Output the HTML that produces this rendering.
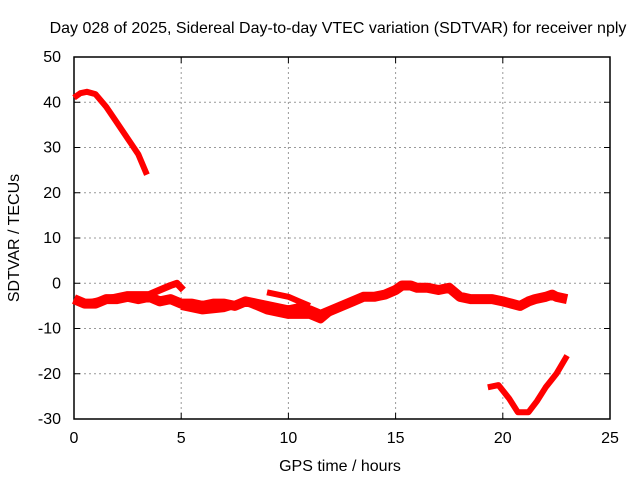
<!DOCTYPE html>
<html><head><meta charset="utf-8"><style>
body{margin:0;background:#fff}
svg text{font-family:"Liberation Sans",sans-serif;font-size:16px;fill:#000}
</style></head><body>
<svg width="640" height="480">
<g id="grid"></g>
<rect x="74" y="57" width="536" height="362" fill="none" stroke="#000" stroke-width="1.5"/>
<g id="ticks"></g>
<g id="series"></g>
<text x="338" y="33" text-anchor="middle">Day 028 of 2025, Sidereal Day-to-day VTEC variation (SDTVAR) for receiver nply</text>
<text x="340" y="471" text-anchor="middle">GPS time / hours</text>
<text transform="translate(19,238) rotate(-90)" text-anchor="middle">SDTVAR / TECUs</text>
</svg>
<script>
const xTicks=[0,5,10,15,20,25];
const yTicks=[50,40,30,20,10,0,-10,-20,-30];
const upperH=[0,0.3,0.6,1,1.5,2,2.5,3,3.4];
const upperV=[41,42,42.3,41.8,39,35.5,32,28.5,24];
const bandAH=[0,0.5,1,1.5,2,2.5,3,3.5,4,4.5,4.8,5.1];
const bandAV=[-3.5,-4.5,-4,-3.5,-3,-2.5,-2.5,-2.5,-1.5,-0.5,0,-1.5];
const bandBH=[0,0.5,1,1.5,2,2.5,3,3.5,4,4.5,5,5.5,6,6.5,7,7.5,8,8.5,9,9.5,10,10.5,11,11.5,12,12.5,13,13.5,14,14.5,15,15.3,15.7,16,16.5,17,17.5,18,18.5,19,19.5,20,20.4,20.8,21.2,21.5,22,22.3,22.5,23];
const bandBV=[-3.5,-4.5,-4.5,-3.5,-3.5,-3,-3.5,-3,-4,-3.5,-4.5,-4.5,-5,-4.5,-4.5,-5,-4,-4.5,-5,-5.5,-6,-5.5,-6,-7,-6,-5,-4,-3,-3,-2.5,-1.5,-0.5,-0.5,-1,-1,-1.5,-1,-3,-3.5,-3.5,-3.5,-4,-4.5,-5,-4,-3.5,-3,-2.5,-3,-3.5];
const bandCH=[5,6,7,8,9,10,11,11.5,12,12.5];
const bandCV=[-5,-6,-5.5,-4,-6,-7,-7,-8,-6,-5];
const bandDH=[9,9.5,10,10.5,11];
const bandDV=[-2,-2.5,-3,-4,-5];
const lowH=[19.3,19.8,20.3,20.7,21.2,21.6,22,22.5,23];
const lowV=[-23,-22.5,-25.5,-28.5,-28.5,-26,-23,-20,-16];
const X=h=>74+h*536/25, Y=v=>57+(50-v)*362/80;
const NS='http://www.w3.org/2000/svg';
const grid=document.getElementById('grid'),ticks=document.getElementById('ticks'),ser=document.getElementById('series');
function mk(tag,a,p){const e=document.createElementNS(NS,tag);for(const k in a)e.setAttribute(k,a[k]);p.appendChild(e);return e;}
xTicks.forEach(t=>{const x=X(t);
 if(t>0&&t<25){const l=mk('line',{x1:x,x2:x,y1:57,y2:419,stroke:'#999','stroke-dasharray':'2,3'},grid);
 
 }
 mk('line',{x1:x,x2:x,y1:419,y2:413,stroke:'#000'},ticks);mk('line',{x1:x,x2:x,y1:57,y2:63,stroke:'#000'},ticks);
 const tx=mk('text',{x:x,y:443,'text-anchor':'middle'},ticks);tx.textContent=t;
 
 });
yTicks.forEach(t=>{const y=Y(t);
 if(t>-30&&t<50){const l=mk('line',{x1:74,x2:610,y1:y,y2:y,stroke:'#999','stroke-dasharray':'2,3'},grid);
 
 }
 mk('line',{x1:74,x2:80,y1:y,y2:y,stroke:'#000'},ticks);mk('line',{x1:604,x2:610,y1:y,y2:y,stroke:'#000'},ticks);
 const tx=mk('text',{x:61,y:y+5,'text-anchor':'end'},ticks);tx.textContent=t;
 
 });
function line(H,V,name,w){const d=H.map((h,i)=>(i?'L':'M')+X(h).toFixed(1)+','+Y(V[i]).toFixed(1)).join('');
 const p=mk('path',{d:d,fill:'none',stroke:'#f00','stroke-width':w,'stroke-linejoin':'round'},ser);
 
 }
line(upperH,upperV,'sdtvar-upper-segment',6);
line(bandAH,bandAV,'sdtvar-band-a',7);
line(bandBH,bandBV,'sdtvar-band-b',10);
line(bandCH,bandCV,'sdtvar-band-c',8);
line(bandDH,bandDV,'sdtvar-band-d',6);
line(lowH,lowV,'sdtvar-lower-segment',6);
</script>
</body></html>
